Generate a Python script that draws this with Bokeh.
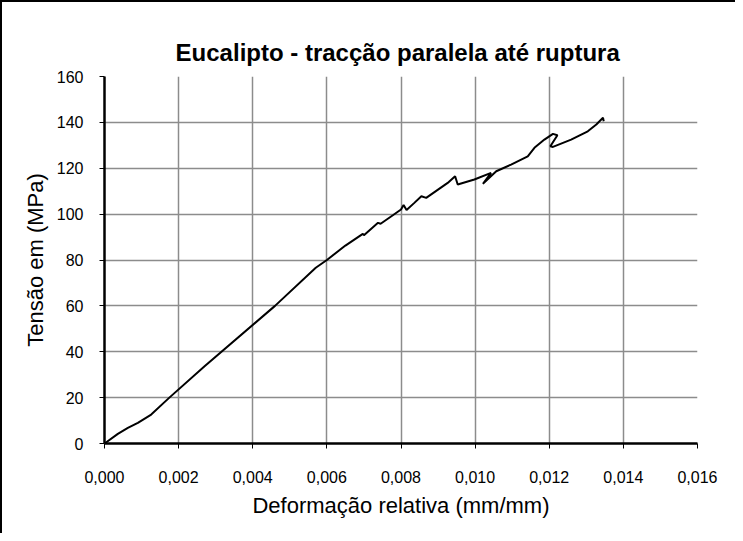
from bokeh.plotting import figure
from bokeh.models import FixedTicker, Range1d
from bokeh.embed import file_html
from bokeh.resources import INLINE

# --- data ---
strain = [0.0, 0.00036, 0.00063, 0.0009, 0.00126, 0.00175, 0.0027, 0.0046, 0.0057, 0.006,
          0.0065, 0.00697, 0.0070, 0.00738, 0.00745, 0.00778, 0.0080, 0.00807, 0.00815,
          0.00836, 0.00855, 0.00868, 0.00926, 0.00946, 0.00953, 0.00998, 0.01043, 0.01021,
          0.01057, 0.01097, 0.01142, 0.0116, 0.01187, 0.0121, 0.01222, 0.01203, 0.0121,
          0.01259, 0.01304, 0.01327, 0.01345, 0.01347]
stress = [0.0, 4.2, 6.8, 9.0, 12.6, 20.0, 33.7, 60.0, 76.6, 80.0,
          86.3, 91.4, 90.8, 96.2, 95.8, 99.5, 102.0, 104.0, 101.8,
          104.9, 107.8, 107.1, 113.6, 116.5, 112.9, 115.1, 118.0, 113.2,
          118.7, 121.6, 125.2, 128.9, 132.5, 135.0, 134.4, 129.6, 129.3,
          132.5, 136.1, 139.1, 142.0, 140.5]

x_ticks = [0.0, 0.002, 0.004, 0.006, 0.008, 0.010, 0.012, 0.014, 0.016]
x_tick_labels = ["0,000", "0,002", "0,004", "0,006", "0,008", "0,010", "0,012", "0,014", "0,016"]
y_ticks = [0, 20, 40, 60, 80, 100, 120, 140, 160]

title_text = "Eucalipto - tracção  paralela até ruptura"
x_title = "Deformação relativa (mm/mm)"
y_title = "Tensão em (MPa)"

FONT = "Liberation Sans"

p = figure(width=735, height=533, output_backend="svg", toolbar_location=None,
           x_range=Range1d(0, 0.016), y_range=Range1d(0, 160),
           min_border_left=102, min_border_right=40, min_border_top=74, min_border_bottom=92)

p.styles = {"border-left": "2px solid black", "border-top": "2px solid black"}

p.title.text = title_text
p.title.text_font = FONT
p.title.text_font_size = "24px"
p.title.text_font_style = "bold"
p.title.align = "center"
p.title.offset = 0
p.title.text_color = "black"
p.title.standoff = 22

p.outline_line_color = None
p.background_fill_color = "white"
p.border_fill_color = "white"

p.line(strain, stress, line_color="black", line_width=2)

p.xaxis.ticker = FixedTicker(ticks=x_ticks)
p.xaxis.major_label_overrides = {t: l for t, l in zip(x_ticks, x_tick_labels)}
p.yaxis.ticker = FixedTicker(ticks=y_ticks)

for ax in (p.xaxis[0], p.yaxis[0]):
    ax.axis_line_color = "black"
    ax.axis_line_width = 2.5
    ax.major_tick_line_color = "black"
    ax.major_tick_line_width = 1
    ax.major_tick_in = 0
    ax.major_tick_out = 5
    ax.minor_tick_line_color = None
    ax.major_label_text_font = FONT
    ax.major_label_text_font_size = "16px"
    ax.major_label_text_color = "black"
    ax.axis_label_text_font = FONT
    ax.axis_label_text_font_size = "22px"
    ax.axis_label_text_font_style = "normal"
    ax.axis_label_text_color = "black"

p.xaxis.axis_label = x_title
p.yaxis.axis_label = y_title
p.xaxis.major_label_standoff = 22
p.xaxis.axis_label_standoff = 7
p.yaxis.major_label_standoff = 16
p.yaxis.axis_label_standoff = 6

p.xgrid.ticker = FixedTicker(ticks=x_ticks)
p.ygrid.ticker = FixedTicker(ticks=y_ticks)
p.grid.grid_line_color = "#8c8c8c"
p.grid.grid_line_width = 1.5

open("out.html", "w").write(file_html(p, INLINE))
